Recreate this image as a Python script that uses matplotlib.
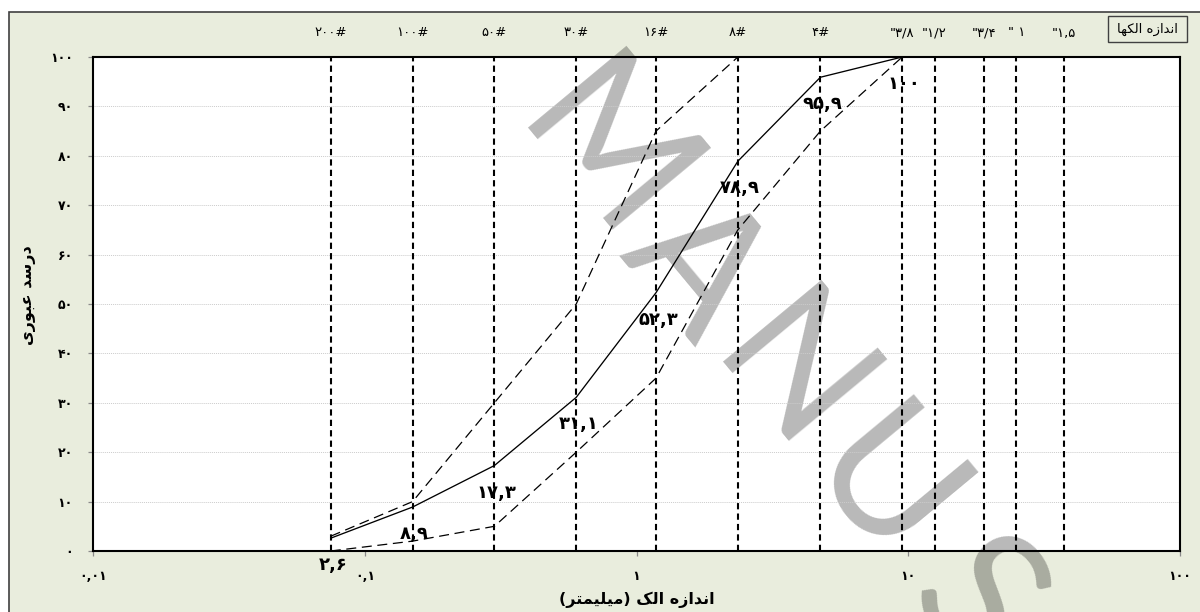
import math
import matplotlib
matplotlib.use("Agg")
import matplotlib.pyplot as plt
import matplotlib.transforms as mtransforms
from matplotlib.patches import Rectangle
from matplotlib.ticker import FixedLocator, NullLocator

# ---------------------------------------------------------------- data
sieve_mm = [0.075, 0.15, 0.3, 0.6, 1.18, 2.36, 4.75, 9.5, 12.5, 19.0, 25.0, 37.5]
sieve_labels = ["۲۰۰#", "۱۰۰#", "۵۰#", "۳۰#", "۱۶#", "۸#", "۴#",
                "\"۳/۸", "\"۱/۲", "\"۳/۴", "\" ۱", "\"۱,۵"]

grading_mm = [0.075, 0.15, 0.3, 0.6, 1.18, 2.36, 4.75, 9.5]
passing = [2.6, 8.9, 17.3, 31.1, 52.3, 78.9, 95.9, 100]

upper_mm = [0.075, 0.15, 0.3, 0.6, 1.18, 2.36]
upper = [3, 10, 30, 50, 85, 100]

lower_mm = [0.075, 0.15, 0.3, 0.6, 1.18, 2.36, 4.75, 9.5]
lower = [0, 2, 5, 20, 35, 65, 85, 100]

x_ticks = [0.01, 0.1, 1, 10, 100]
y_ticks = [0, 10, 20, 30, 40, 50, 60, 70, 80, 90, 100]

x_title = "اندازه الک (میلیمتر)"
y_title = "درصد عبوری"
sieve_title = "اندازه الکها"
watermark = "MANUS"

# ---------------------------------------------------------------- text helpers
FA_DIGITS = str.maketrans("0123456789.", "۰۱۲۳۴۵۶۷۸۹,")


def fa(value):
    return ("%g" % value).translate(FA_DIGITS)


# contextual forms: isolated, final, initial, medial (None = joins only to the right)
FORMS = {
    "ا": ("\uFE8D", "\uFE8E", None, None),
    "ب": ("\uFE8F", "\uFE90", "\uFE91", "\uFE92"),
    "ت": ("\uFE95", "\uFE96", "\uFE97", "\uFE98"),
    "د": ("\uFEA9", "\uFEAA", None, None),
    "ر": ("\uFEAD", "\uFEAE", None, None),
    "ز": ("\uFEAF", "\uFEB0", None, None),
    "ص": ("\uFEB1", "\uFEB2", "\uFEB3", "\uFEB4"),
    "ع": ("\uFEC9", "\uFECA", "\uFECB", "\uFECC"),
    "ل": ("\uFEDD", "\uFEDE", "\uFEDF", "\uFEE0"),
    "م": ("\uFEE1", "\uFEE2", "\uFEE3", "\uFEE4"),
    "ن": ("\uFEE5", "\uFEE6", "\uFEE7", "\uFEE8"),
    "ه": ("\uFEE9", "\uFEEA", "\uFEEB", "\uFEEC"),
    "و": ("\uFEED", "\uFEEE", None, None),
    "ک": ("\uFB8E", "\uFB8F", "\uFB90", "\uFB91"),
    "ی": ("\uFBFC", "\uFBFD", "\uFBFE", "\uFBFF"),
}


def rtl(text):
    """Shape Persian letters and lay them out right-to-left."""
    glyphs = []
    for i, ch in enumerate(text):
        forms = FORMS.get(ch)
        if forms is None:
            glyphs.append(ch)
            continue
        prev = text[i - 1] if i > 0 else ""
        nxt = text[i + 1] if i + 1 < len(text) else ""
        join_prev = prev in FORMS and FORMS[prev][2] is not None
        join_next = forms[2] is not None and nxt in FORMS
        if join_prev and join_next:
            glyphs.append(forms[3])
        elif join_prev:
            glyphs.append(forms[1])
        elif join_next:
            glyphs.append(forms[2])
        else:
            glyphs.append(forms[0])
    return "".join(reversed(glyphs)).translate(str.maketrans("()", ")("))


# ---------------------------------------------------------------- figure
W, H, DPI = 1200, 612, 100
BG = "#e9eddd"
plt.rcParams["font.family"] = ["DejaVu Sans"]

fig = plt.figure(figsize=(W / DPI, H / DPI), dpi=DPI, facecolor="white")


def px(x, y):
    return x / W, 1 - y / H


# chart area frame
fig.patches.append(Rectangle(px(9, 700), 1.2, (700 - 12) / H, transform=fig.transFigure,
                             facecolor=BG, edgecolor="#404040", linewidth=1.2, zorder=0))

ax_l, ax_t, ax_r, ax_b = 93, 57, 1180, 551
ax = fig.add_axes([ax_l / W, 1 - ax_b / H, (ax_r - ax_l) / W, (ax_b - ax_t) / H])
ax.set_facecolor("none")
ax.set_zorder(2)

# white plot area behind the watermark
fig.patches.append(Rectangle(px(ax_l, ax_b), (ax_r - ax_l) / W, (ax_b - ax_t) / H,
                             transform=fig.transFigure, facecolor="white",
                             edgecolor="none", zorder=1))

# diagonal watermark, one letter at a time with wide tracking
wm_angle = 50.3
wm_pitch = 145
wm_half_cap = 63
ca, sa = math.cos(math.radians(wm_angle)), math.sin(math.radians(wm_angle))
for i, ch in enumerate(watermark):
    cx, cy = 612 + i * wm_pitch * ca, 150 + i * wm_pitch * sa
    bx, by = cx - sa * wm_half_cap, cy + ca * wm_half_cap
    fig.text(bx / W, 1 - by / H, ch, family="Lato", fontsize=128, color="black",
             alpha=0.28, rotation=-wm_angle, rotation_mode="anchor",
             ha="center", va="baseline", zorder=1.5)

ax.set_xscale("log")
ax.set_xlim(0.01, 100)
ax.set_ylim(0, 100)

ax.xaxis.set_major_locator(FixedLocator(x_ticks))
ax.xaxis.set_minor_locator(NullLocator())
ax.set_xticklabels([fa(v) for v in x_ticks])
ax.set_yticks(y_ticks)
ax.set_yticklabels([fa(v) for v in y_ticks])
ax.tick_params(axis="both", direction="out", length=3.6, width=0.9, color="#8a8a8a",
               labelsize=9)
ax.tick_params(axis="y", pad=11)
ax.tick_params(axis="x", pad=10)
for lab in ax.get_xticklabels() + ax.get_yticklabels():
    lab.set_fontweight("bold")

ax.yaxis.grid(True, linestyle=(0, (1, 1)), color="#cccccc", linewidth=0.7)
ax.set_axisbelow(True)
for sp in ax.spines.values():
    sp.set_linewidth(1.5)
    sp.set_color("black")

# sieve lines
ax.vlines(sieve_mm, 0, 100, colors="black", linestyles=(0, (3, 2)), linewidth=1.5, zorder=2)

# specification limits and grading curve
dash = (0, (8, 4.5))
ax.plot(upper_mm, upper, color="black", linewidth=0.9, linestyle=dash, zorder=3)
ax.plot(lower_mm, lower, color="black", linewidth=0.9, linestyle=dash, zorder=3)
ax.plot(grading_mm, passing, color="black", linewidth=0.95, zorder=4)

for xv, yv in zip(grading_mm, passing):
    ax.annotate(fa(yv), (xv, yv), xytext=(2, -27), textcoords="offset pixels",
                ha="center", va="center", fontsize=13, fontweight="bold", zorder=5)

# sieve names above the plot
top_tr = mtransforms.blended_transform_factory(ax.transData, ax.transAxes)
for xv, lab in zip(sieve_mm, sieve_labels):
    ax.text(xv, 1 + (ax_t - 33) / (ax_b - ax_t), lab, transform=top_tr,
            ha="center", va="center", fontsize=9.5, clip_on=False)

fig.patches.append(Rectangle(px(1108, 42), 79 / W, 26 / H, transform=fig.transFigure,
                             facecolor="none", edgecolor="#404040", linewidth=1.0, zorder=3))
fig.text(1147.5 / W, 1 - 29.5 / H, rtl(sieve_title), ha="center", va="center",
         fontsize=9.5, zorder=4)

fig.text(637 / W, 1 - 600 / H, rtl(x_title), ha="center", va="center",
         fontsize=11.5, fontweight="bold")
fig.text(28 / W, 1 - 295 / H, rtl(y_title), ha="center", va="center", rotation=90,
         fontsize=11.5, fontweight="bold")

fig.savefig("out.png", dpi=DPI, facecolor="white")
